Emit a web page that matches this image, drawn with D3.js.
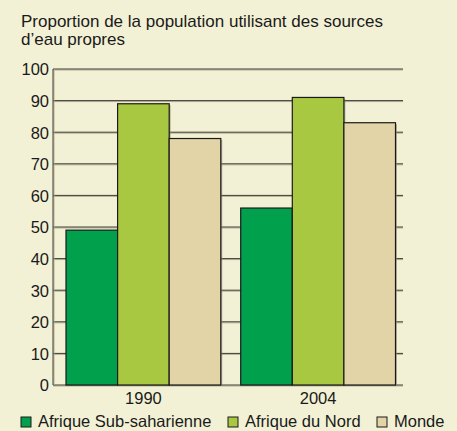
<!DOCTYPE html>
<html>
<head>
<meta charset="utf-8">
<script src="https://cdn.jsdelivr.net/npm/d3@7"></script>
<style>
    html, body { margin: 0; padding: 0; background: #f3f1d5; }
    svg { display: block; font-family: "Liberation Sans", Arial, sans-serif; }
</style>
</head>
<body>
<svg id="chart" width="457" height="431"></svg>
<script>
    const years = ['1990', '2004'];
    const regions = ['Afrique Sub-saharienne', 'Afrique du Nord', 'Monde'];
    const subSaharan = [49, 56];
    const northAfrica = [89, 91];
    const world = [78, 83];
    const yTicks = [0, 10, 20, 30, 40, 50, 60, 70, 80, 90, 100];
    const titleLines = ['Proportion de la population utilisant des sources', 'd\u2019eau propres'];

    const colors = ['#00a04c', '#a9c841', '#e2d4a6'];
    const series = [subSaharan, northAfrica, world];

    const plot = {left: 53, right: 403, top: 69, bottom: 385};

    const svg = d3.select('#chart');

    // title
    svg.append('g').selectAll('text').data(titleLines).enter()
        .append('text')
        .attr('x', 21)
        .attr('y', (d, i) => 26.5 + i * 18.5)
        .attr('font-size', 17)
        .attr('fill', '#1a1a1a')
        .text(d => d);

    const yScale = d3.scaleLinear().domain([0, 100]).range([plot.bottom, plot.top]);
    const x0 = d3.scaleBand().domain(years).range([66, 395.5]).paddingInner(0.114).paddingOuter(0);
    const x1 = d3.scaleBand().domain(regions).range([0, x0.bandwidth()]);

    // grid lines with a soft shadow
    const grid = svg.append('g');
    grid.selectAll('.shadow').data(yTicks).enter()
        .append('line')
        .attr('x1', plot.left).attr('x2', plot.right)
        .attr('y1', d => yScale(d) + 1).attr('y2', d => yScale(d) + 1)
        .attr('stroke', '#b3ae94').attr('stroke-width', 1);
    grid.selectAll('.line').data(yTicks).enter()
        .append('line')
        .attr('x1', plot.left).attr('x2', plot.right)
        .attr('y1', d => yScale(d)).attr('y2', d => yScale(d))
        .attr('stroke', '#3d3b33').attr('stroke-width', 1);

    // left axis
    svg.append('line')
        .attr('x1', plot.left + 1).attr('x2', plot.left + 1)
        .attr('y1', plot.top).attr('y2', plot.bottom)
        .attr('stroke', '#b3ae94');
    svg.append('line')
        .attr('x1', plot.left).attr('x2', plot.left)
        .attr('y1', plot.top).attr('y2', plot.bottom)
        .attr('stroke', '#3d3b33');

    const yAxis = svg.append('g')
        .attr('transform', 'translate(' + plot.left + ',0)')
        .call(d3.axisLeft(yScale).tickValues(yTicks).tickSize(0).tickPadding(4));
    yAxis.select('.domain').remove();
    yAxis.selectAll('text')
        .attr('font-family', '"Liberation Sans", Arial, sans-serif')
        .attr('font-size', 16.5)
        .attr('fill', '#1a1a1a')
        .attr('dy', '0.36em');

    // bars
    const groups = svg.append('g').selectAll('g').data(years).enter()
        .append('g')
        .attr('transform', d => 'translate(' + x0(d) + ',0)');

    const barData = (d, i) => regions.map((r, k) => ({region: r, value: series[k][i], color: colors[k]}));

    groups.selectAll('.bar-shadow').data(barData).enter()
        .append('rect')
        .attr('class', 'bar-shadow')
        .attr('x', d => x1(d.region) + 1.5)
        .attr('y', d => yScale(d.value) + 1.5)
        .attr('width', x1.bandwidth())
        .attr('height', d => plot.bottom - yScale(d.value) - 1.5)
        .attr('fill', '#8f8b74')
        .attr('opacity', 0.6);

    groups.selectAll('.bar').data(barData).enter()
        .append('rect')
        .attr('class', 'bar')
        .attr('x', d => x1(d.region))
        .attr('y', d => yScale(d.value))
        .attr('width', x1.bandwidth())
        .attr('height', d => plot.bottom - yScale(d.value))
        .attr('fill', d => d.color)
        .attr('stroke', '#1a1a1a')
        .attr('stroke-width', 1.2);

    // x labels
    svg.append('g').selectAll('text').data(years).enter()
        .append('text')
        .attr('x', d => x0(d) + x0.bandwidth() / 2)
        .attr('y', 404)
        .attr('text-anchor', 'middle')
        .attr('font-size', 16.5)
        .attr('fill', '#1a1a1a')
        .text(d => d);

    // legend
    const legendX = [21, 228, 377];
    const legend = svg.append('g').selectAll('g').data(regions).enter()
        .append('g')
        .attr('transform', (d, i) => 'translate(' + legendX[i] + ',417)');
    legend.append('rect')
        .attr('width', 10).attr('height', 10)
        .attr('fill', (d, i) => colors[i])
        .attr('stroke', '#1a1a1a')
        .attr('stroke-width', 1);
    legend.append('text')
        .attr('x', 17)
        .attr('y', 10)
        .attr('font-size', 16.5)
        .attr('fill', '#1a1a1a')
        .text(d => d);
</script>
</body>
</html>
